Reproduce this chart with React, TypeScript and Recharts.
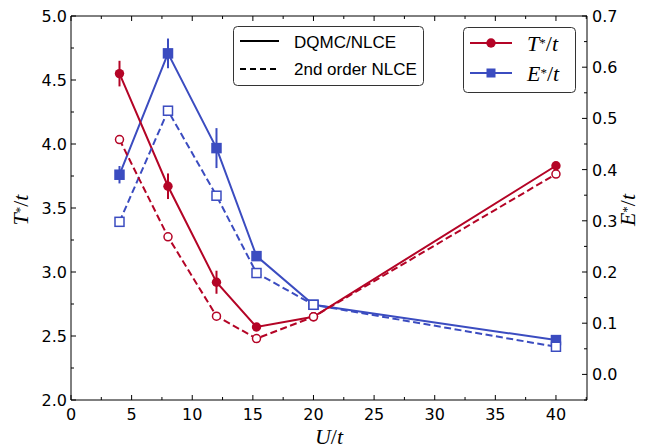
import { ComposedChart, Line, XAxis, YAxis, ErrorBar } from 'recharts';

// U/t values and the measured crossover scales
const uValues = [4, 8, 12, 15.3, 20, 40];
const tDqmc = [4.55, 3.67, 2.92, 2.57, 2.65, 3.83];
const tDqmcErr = [0.1, 0.1, 0.09, 0.02, 0.015, 0.015];
const tNlce2 = [4.035, 3.275, 2.655, 2.48, 2.65, 3.765];
const eDqmc = [0.39, 0.627, 0.442, 0.231, 0.136, 0.067];
const eDqmcErr = [0.017, 0.029, 0.039, 0.008, 0.004, 0.004];
const eNlce2 = [0.298, 0.515, 0.349, 0.198, 0.136, 0.054];

const uTicks = [0, 2.5, 5, 7.5, 10, 12.5, 15, 17.5, 20, 22.5, 25, 27.5, 30, 32.5, 35, 37.5, 40, 42.5];
const tTicks = [2, 2.25, 2.5, 2.75, 3, 3.25, 3.5, 3.75, 4, 4.25, 4.5, 4.75, 5];
const eTicks = [-0.05, 0, 0.05, 0.1, 0.15, 0.2, 0.25, 0.3, 0.35, 0.4, 0.45, 0.5, 0.55, 0.6, 0.65, 0.7];

const data = uValues.map((u, i) => ({
    u,
    tDqmc: tDqmc[i],
    tErr: tDqmcErr[i],
    tNlce: tNlce2[i],
    eDqmc: eDqmc[i],
    eErr: eDqmcErr[i],
    eNlce: eNlce2[i],
}));

const RED = '#b40426';
const BLUE = '#3b4cc0';

const tickFont = { fontFamily: 'DejaVu Sans', fontSize: 16, fill: '#000' };
const mathFont = { fontFamily: 'Liberation Serif', fontSize: 22, fill: '#000' };

const isMult = (v, step) => Math.abs(v / step - Math.round(v / step)) < 1e-6;

const BottomTick = ({ x, y, payload }) => {
    const major = isMult(payload.value, 5);
    return (
        <g>
            <line x1={x} x2={x} y1={y} y2={y - (major ? 5 : 3)} stroke='#000' />
            {major && <text x={x} y={y + 20} textAnchor='middle' {...tickFont}>{payload.value}</text>}
        </g>
    );
}

const TopTick = ({ x, y, payload }) => {
    const major = isMult(payload.value, 5);
    return <line x1={x} x2={x} y1={y} y2={y + (major ? 5 : 3)} stroke='#000' />;
}

const LeftTick = ({ x, y, payload }) => {
    const major = isMult(payload.value, 0.5);
    return (
        <g>
            <line x1={x} x2={x + (major ? 5 : 3)} y1={y} y2={y} stroke='#000' />
            {major && <text x={x - 4} y={y + 6} textAnchor='end' {...tickFont}>{payload.value.toFixed(1)}</text>}
        </g>
    );
}

const RightTick = ({ x, y, payload }) => {
    const major = isMult(payload.value, 0.1) && payload.value > -0.01;
    return (
        <g>
            <line x1={x} x2={x - (major ? 5 : 3)} y1={y} y2={y} stroke='#000' />
            {major && <text x={x + 5} y={y + 6} textAnchor='start' {...tickFont}>{Math.abs(payload.value).toFixed(1)}</text>}
        </g>
    );
}

const squareDot = (fill) => (p) => (
    <rect key={'sq' + p.index} x={p.cx - 4.5} y={p.cy - 4.5} width={9} height={9}
        fill={fill} stroke={BLUE} strokeWidth={1.5} strokeDasharray='none' />
);

const circleDot = (fill) => (p) => (
    <circle key={'ci' + p.index} cx={p.cx} cy={p.cy} r={fill === RED ? 4.7 : 4}
        fill={fill} stroke={RED} strokeWidth={fill === RED ? 0 : 1.5} strokeDasharray='none' />
);

const MathText = ({ sym, star = true }) => (
    <>
        <tspan fontStyle='italic'>{sym}</tspan>
        {star && <tspan fontSize={13} dy={-4}>*</tspan>}
        <tspan dy={star ? 4 : 0}>/</tspan>
        <tspan fontStyle='italic'>t</tspan>
    </>
);

export default function App() {
    return (
        <div style={{ position: 'absolute', left: 0, top: 0, width: 652, height: 448 }}>
            <ComposedChart width={652} height={448} data={data} margin={{ top: 0, right: 0, bottom: 0, left: 0 }}>
                <XAxis xAxisId='b' dataKey='u' type='number' domain={[0, 42.56]} allowDataOverflow
                    ticks={uTicks} interval={0} height={48} tickSize={0} tickMargin={0}
                    tickLine={false} axisLine={{ stroke: '#000' }} tick={<BottomTick />} />
                <XAxis xAxisId='t' orientation='top' dataKey='u' type='number' domain={[0, 42.56]} allowDataOverflow
                    ticks={uTicks} interval={0} height={16} tickSize={0} tickMargin={0}
                    tickLine={false} axisLine={{ stroke: '#000' }} tick={<TopTick />} />
                <YAxis yAxisId='l' type='number' domain={[2, 5]} allowDataOverflow
                    ticks={tTicks} interval={0} width={71} tickSize={0} tickMargin={0}
                    tickLine={false} axisLine={{ stroke: '#000' }} tick={<LeftTick />} />
                <YAxis yAxisId='r' orientation='right' type='number' domain={[-0.05, 0.7]} allowDataOverflow
                    ticks={eTicks} interval={0} width={65} tickSize={0} tickMargin={0}
                    tickLine={false} axisLine={{ stroke: '#000' }} tick={<RightTick />} />

                <Line xAxisId='b' yAxisId='r' dataKey='eDqmc' type='linear' stroke={BLUE} strokeWidth={2}
                    dot={squareDot(BLUE)} activeDot={false} isAnimationActive={false}>
                    <ErrorBar dataKey='eErr' width={0} stroke={BLUE} strokeWidth={2} direction='y' isAnimationActive={false} />
                </Line>
                <Line xAxisId='b' yAxisId='l' dataKey='tDqmc' type='linear' stroke={RED} strokeWidth={2}
                    dot={circleDot(RED)} activeDot={false} isAnimationActive={false}>
                    <ErrorBar dataKey='tErr' width={0} stroke={RED} strokeWidth={2} direction='y' isAnimationActive={false} />
                </Line>
                <Line xAxisId='b' yAxisId='r' dataKey='eNlce' type='linear' stroke={BLUE} strokeWidth={2}
                    strokeDasharray='7 3.5' dot={squareDot('#fff')} activeDot={false} isAnimationActive={false} />
                <Line xAxisId='b' yAxisId='l' dataKey='tNlce' type='linear' stroke={RED} strokeWidth={2}
                    strokeDasharray='7 3.5' dot={circleDot('#fff')} activeDot={false} isAnimationActive={false} />
            </ComposedChart>

            <svg width={652} height={448} style={{ position: 'absolute', left: 0, top: 0, pointerEvents: 'none' }}>
                <rect x={233.5} y={26.5} width={190} height={59} rx={4} fill='#fff' fillOpacity={0.8} stroke='#333' />
                <line x1={240} x2={279} y1={41} y2={41} stroke='#000' strokeWidth={2} />
                <text x={294} y={48} fontFamily='Liberation Sans' fontSize={17}>DQMC/NLCE</text>
                <line x1={240} x2={279} y1={69} y2={69} stroke='#000' strokeWidth={2} strokeDasharray='6 4' />
                <text x={294} y={75} fontFamily='Liberation Sans' fontSize={17}>2nd order NLCE</text>

                <rect x={463.5} y={27.5} width={112} height={65} rx={4} fill='#fff' fillOpacity={0.8} stroke='#333' />
                <line x1={470} x2={512} y1={43} y2={43} stroke={RED} strokeWidth={2} />
                <circle cx={491} cy={43} r={4.7} fill={RED} />
                <text x={527} y={51} {...mathFont}><MathText sym='T' /></text>
                <line x1={470} x2={512} y1={73} y2={73} stroke={BLUE} strokeWidth={2} />
                <rect x={486.5} y={68.5} width={9} height={9} fill={BLUE} />
                <text x={527} y={81} {...mathFont}><MathText sym='E' /></text>

                <text x={329} y={444} textAnchor='middle' {...mathFont}><MathText sym='U' star={false} /></text>
                <g transform='translate(21,210) rotate(-90)'>
                    <text x={0} y={7} textAnchor='middle' {...mathFont}><MathText sym='T' /></text>
                </g>
                <g transform='translate(628,210) rotate(-90)'>
                    <text x={0} y={7} textAnchor='middle' {...mathFont}><MathText sym='E' /></text>
                </g>
            </svg>
        </div>
    );
}
